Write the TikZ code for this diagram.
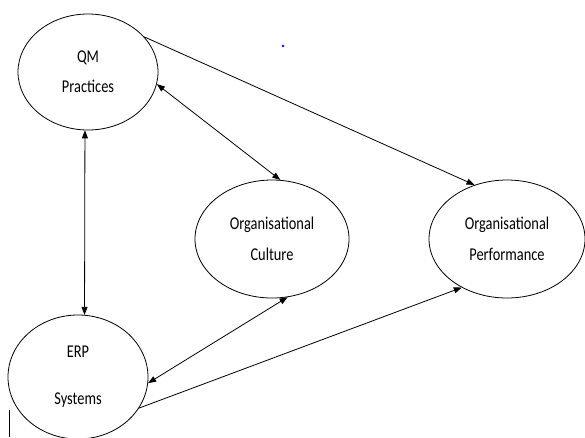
\documentclass[tikz,border=0pt]{standalone}
\usepackage{fontspec}
\setmainfont{Carlito}[FakeStretch=0.8]
\usetikzlibrary{arrows.meta,shapes.geometric}
\tikzset{
  construct/.style={draw,ellipse,line width=0.8pt,inner sep=0pt,align=center,
    font=\fontsize{18}{22}\selectfont},
  link/.style={line width=0.8pt,-{Triangle[length=8pt,width=6pt]}},
  twoway/.style={line width=0.8pt,{Triangle[length=8pt,width=6pt]}-{Triangle[length=8pt,width=6pt]}}
}
\begin{document}
\begin{tikzpicture}[x=1pt,y=-1pt]
  \useasboundingbox (0,0) rectangle (585,437);
  \node[construct,minimum width=140pt,minimum height=116pt] (qm) at (88,72) {QM\\[8pt]Practices};
  \node[construct,minimum width=140pt,minimum height=124pt] (erp) at (78,377) {ERP\\[25pt]Systems};
  \node[construct,minimum width=154pt,minimum height=118pt] (culture) at (272,239) {Organisational\\[9pt]Culture};
  \node[construct,minimum width=156pt,minimum height=118pt] (perf) at (507,239) {Organisational\\[9pt]Performance};

  \draw[twoway] (qm.-93) -- (erp.84);
  \draw[twoway] (qm.-10) -- (culture.82);
  \draw[link] (qm.32) -- (perf.121);
  \draw[twoway] (culture.-75) -- (erp.-5);
  \draw[link] (erp.-27) -- (perf.227);

  \fill[blue] (283,46) circle (1.4pt);
  \draw[line width=1pt] (9,410) -- (9,437);
\end{tikzpicture}
\end{document}
